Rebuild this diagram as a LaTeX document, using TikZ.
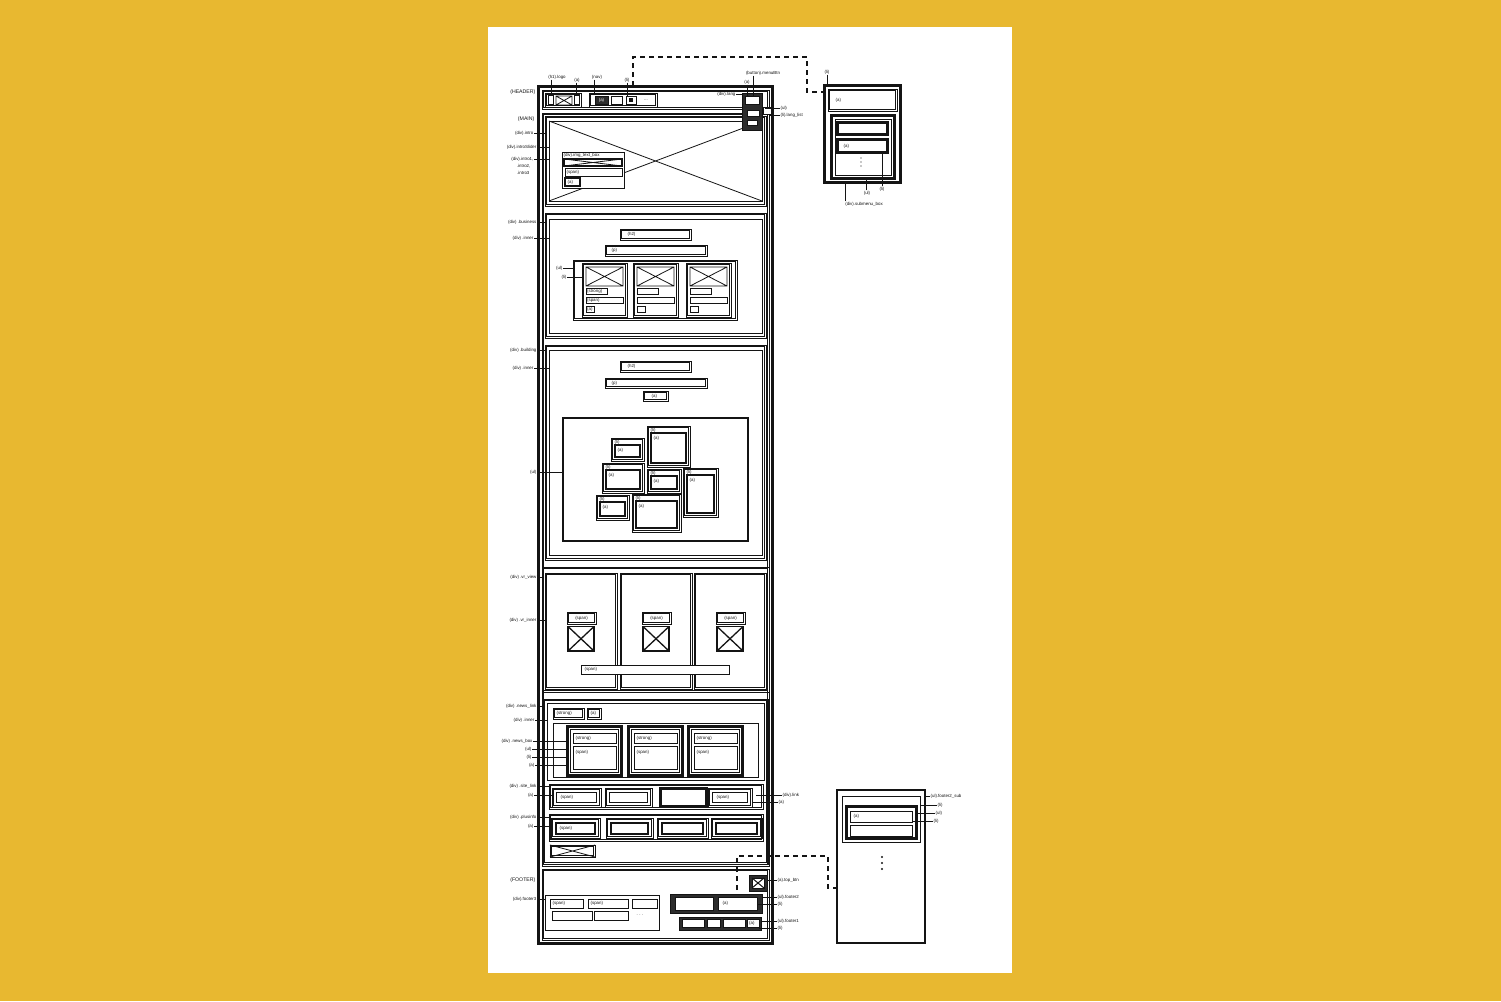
\documentclass[tikz,border=0pt]{standalone}
\usepackage{fontspec}
\setmainfont{Liberation Sans}
\usetikzlibrary{arrows.meta,positioning,calc}
\definecolor{bgyellow}{HTML}{E8B830}
\definecolor{ink}{HTML}{141414}

\tikzset{
  box/.style={draw=ink, line width=0.8pt},
  frame/.style={draw=ink, line width=1.1pt},
  darkbox/.style={draw=ink, fill=ink!90, line width=0.8pt},
  lbl/.style={font=\fontsize{4.4}{5}\selectfont, inner sep=0.4pt, text=ink},
  biglbl/.style={font=\fontsize{5.2}{6}\selectfont, inner sep=0.4pt, text=ink},
  lead/.style={draw=ink, line width=0.8pt},
  link/.style={draw=ink, line width=1.8pt, dash pattern=on 5pt off 4pt},
}
% double frame drawn as two rectangles
\newcommand{\dfr}[5][]{\draw[box,#1] ({#2},{#3}) rectangle ({#4},{#5})
  ({#2+1.8},{#3+1.8}) rectangle ({#4-1.8},{#5-1.8});}
% image placeholder
\newcommand{\xbox}[4]{\draw[box] ({#1},{#2}) rectangle ({#3},{#4})
  ({#1},{#2}) -- ({#3},{#4}) ({#1},{#4}) -- ({#3},{#2});}
% labels with leader lines
\newcommand{\llab}[4]{\node[lbl, anchor=east] (#1) at (#2) {#3};
  \coordinate (#1t) at (#4); \draw[lead] (#1.east) -- (#1t);}
\newcommand{\rlab}[4]{\node[lbl, anchor=west] (#1) at (#2) {#3};
  \coordinate (#1t) at (#4); \draw[lead] (#1t) -- (#1.west);}
\newcommand{\tlab}[4]{\node[lbl] (#1) at (#2) {#3};
  \coordinate (#1t) at (#4); \draw[lead] (#1t |- #1.south) -- (#1t);}
\newcommand{\blab}[4]{\node[lbl] (#1) at (#2) {#3};
  \coordinate (#1t) at (#4); \draw[lead] (#1t |- #1.north) -- (#1t);}
\newcommand{\txt}[3]{\node[lbl, anchor=west] (#1) at (#2) {#3};}
% building list item
\newcommand{\bli}[5]{\dfr{#2}{#3}{#4}{#5}
  \draw[box, line width=1.1pt] ({#2+4},{#3+7}) rectangle ({#4-4},{#5-4});
  \node[lbl, anchor=west] (#1li) at ({#2+3},{#3+4.2}) {(li)};
  \node[lbl, anchor=west] (#1a) at ({#2+6},{#3+12}) {(a)};}

\begin{document}
\begin{tikzpicture}[x=1pt, y=-1pt]
\useasboundingbox (0,0) rectangle (1501,1001);
\fill[bgyellow] (0,0) rectangle (1501,1001);
\fill[white] (488,27) rectangle (1012,973);

% page column
\dfr[line width=1.3pt]{538}{86}{773}{944}

% header
\dfr{542}{90}{769}{109}
\dfr{545}{93}{581}{107}
\draw[box] (548,95) rectangle (553,104);
\draw[box] (574,95) rectangle (579,104);
\xbox{556}{96}{572}{105}
\dfr{589}{93}{657}{107}
\draw[darkbox] (595,96) rectangle (608,104);
\node[lbl, text=white] (nava) at (601.5,100) {(a)};
\draw[box] (611,96) rectangle (622,104);
\draw[box] (626,96) rectangle (636,104);
\fill[ink] (629,98) rectangle (633,102);
\node[lbl] (navdots) at (646,100) {...};

% main
\dfr[line width=1pt]{542}{113}{769}{866}
\dfr{545}{116}{766}{206}
\draw[box] (549,121) rectangle (762,201);
\draw[box] (549,121) -- (762,201) (549,201) -- (762,121);
\draw[box, fill=white] (562,152) rectangle (624,188);
\node[lbl, anchor=north west] (itb) at (563,152.5) {(div).img\_text\_box};
\draw[box, line width=1.2pt, fill=white] (564,159) rectangle (622,166);
\draw[box] (564,159) -- (622,166) (564,166) -- (622,159);
\draw[box] (565,168) rectangle (622,176);
\txt{itbspan}{566,172}{(span)}
\draw[box, line width=1.2pt] (565,178) rectangle (580,186);
\txt{itba}{567,182}{(a)}

% language box
\draw[darkbox] (742,93) rectangle (762,130);
\draw[box, fill=white] (745,96) rectangle (759,104);
\draw[box, fill=white] (747,110) rectangle (759,116);
\draw[box, fill=white] (747,120) rectangle (757,125);
\draw[box, fill=white] (763,107) rectangle (771,114);

% business
\dfr{545}{213}{766}{338}
\draw[box] (549,219) rectangle (762,333);
\dfr{620}{229}{691}{240}
\txt{bush}{627,234.5}{(h2)}
\dfr{605}{245}{707}{256}
\txt{busp}{611,250.5}{(p)}
\dfr[line width=1pt]{573}{260}{737}{320}
\foreach \x/\n in {582/1,633/2,686/3} {
  \dfr{\x}{263}{\x+45}{317}
  \xbox{\x+4}{267}{\x+41}{286}
  \draw[box, line width=1pt] ({\x+4},288) rectangle ({\x+25},294);
  \draw[box, line width=1pt] ({\x+4},297) rectangle ({\x+41},303);
  \draw[box, line width=1pt] ({\x+4},306) rectangle ({\x+12},312);
}
\txt{busstrong}{586.5,291}{(strong)}
\txt{busspan}{586.5,300}{(span)}
\txt{busa}{586.5,309}{(a)}

% building
\dfr{545}{345}{766}{560}
\draw[box] (549,350) rectangle (762,555);
\dfr{620}{361}{691}{372}
\txt{bldh}{627,366.5}{(h2)}
\dfr{605}{378}{707}{388}
\txt{bldp}{611,383}{(p)}
\dfr{643}{391}{668}{401}
\txt{blda}{651,396.5}{(a)}
\draw[frame] (563,418) rectangle (748,541);
\bli{ba}{611}{438}{644}{461}
\bli{bb}{647}{426}{690}{467}
\bli{bc}{602}{463}{644}{493}
\bli{bd}{647}{469}{681}{493}
\bli{be}{683}{468}{718}{517}
\bli{bf}{596}{495}{629}{520}
\bli{bg}{632}{494}{681}{532}

% vr view
\dfr{542}{567}{769}{692}
\foreach \x/\n in {545/1,620/2,694/3} {
  \dfr{\x}{573}{\x+72}{689}
  \dfr{\x+22}{612}{\x+51}{624.5}
  \node[lbl] (vrspan\n) at ({\x+36.5},618.3) {(span)};
  \draw[box, line width=1.3pt] ({\x+23},626.5) rectangle ({\x+49},651);
  \draw[box, line width=1.3pt] ({\x+23},626.5) -- ({\x+49},651) ({\x+23},651) -- ({\x+49},626.5);
}
\draw[box, fill=white] (581,665) rectangle (729,674);
\txt{vrspan}{584,669.5}{(span)}

% news
\dfr{543}{699}{768}{864}
\draw[box] (547,703) rectangle (764,780);
\dfr{553}{708}{584}{719}
\txt{newsstrong}{556,713.5}{(strong)}
\dfr{587}{708}{601}{719}
\txt{newsa}{590,713.5}{(a)}
\draw[box] (553,723) rectangle (758,777);
\foreach \x/\n in {567/1,628/2,688/3} {
  \dfr[line width=1.1pt]{\x}{726}{\x+55}{776}
  \draw[box] ({\x+3.8},729.8) rectangle ({\x+51.2},772.2);
  \draw[box] ({\x+6},733) rectangle ({\x+49},743);
  \draw[box] ({\x+6},746) rectangle ({\x+49},769);
  \txt{nstrong\n}{\x+8,738}{(strong)}
  \txt{nspan\n}{\x+8,752}{(span)}
}
% site link
\dfr{549}{784}{763}{809}
\foreach \a/\b in {552/601,605/652,708/752} {
  \dfr{\a}{788}{\b}{807}
  \draw[box, line width=1.1pt] ({\a+4.5},792.5) rectangle ({\b-4.5},802.5);
}
\dfr[line width=1.2pt]{660}{788}{707}{807}
\txt{slspan}{560,797.5}{(span)}
\txt{slspanb}{716,797.5}{(span)}
% plus info
\dfr{549}{814}{763}{841}
\foreach \a/\b in {551/600,606/653,657/708,711/762} {
  \dfr{\a}{818}{\b}{838}
  \draw[box, line width=1.1pt] ({\a+5},823) rectangle ({\b-5},834);
}
\txt{pispan}{559,828.5}{(span)}
\dfr{550}{845}{595}{857}
\draw[box] (550,845) -- (595,857) (550,857) -- (595,845);

% footer
\dfr{542}{869}{769}{940}
\draw[box] (545,895) rectangle (659,930);
\draw[box] (550,899) rectangle (583,908);
\txt{f3span}{552,903.5}{(span)}
\draw[box] (588,899) rectangle (628,908);
\txt{f3spanb}{590,903.5}{(span)}
\draw[box] (632,899) rectangle (657,908);
\draw[box] (552,911) rectangle (592,920);
\draw[box] (594,911) rectangle (628,920);
\node[lbl] (f3dots) at (640,915) {. . .};
\draw[darkbox] (749,875) rectangle (767,891);
\draw[box, fill=white] (752,878) rectangle (764,888);
\draw[box, line width=1pt] (752,878) -- (764,888) (752,888) -- (764,878);
\draw[darkbox] (670,894) rectangle (762,913);
\draw[box, fill=white] (675,897) rectangle (713,910);
\draw[box, fill=white] (718,897) rectangle (757,910);
\txt{f2a}{722,903.5}{(a)}
\draw[darkbox] (679,917) rectangle (761,930);
\foreach \a/\b in {682/704,707/720,723/745,747/759}
  \draw[box, fill=white] (\a,919.5) rectangle (\b,927.5);
\txt{f1a}{748.5,923.5}{(a)}

% submenu box
\dfr[line width=1.1pt]{824}{85}{901}{183}
\dfr{828}{89}{897}{111}
\txt{suba}{835,100}{(a)}
\dfr[line width=1.1pt]{831}{115}{895}{179}
\draw[box] (835,119) rectangle (891,175);
\dfr[line width=1.1pt]{837}{122}{888}{135}
\dfr[line width=1.1pt]{837}{139}{888}{153}
\txt{subaa}{843,146}{(a)}
\foreach \y in {158,162,166} \fill[ink] (861,\y) circle (0.6pt);

% footer2 sub box
\draw[frame] (837,790) rectangle (925,943);
\draw[box] (842,796) rectangle (920,842);
\dfr[line width=1.1pt]{846}{806}{917}{839}
\draw[box, line width=1pt] (850,811) rectangle (912,822);
\txt{fsa}{853,816.5}{(a)}
\draw[box, line width=1pt] (850,825) rectangle (912,836);
\foreach \y in {857,863,869} \fill[ink] (882,\y) circle (1.2pt);

% labels, left side
\node[biglbl, anchor=east] (hdr) at (536,92) {(HEADER)};
\node[biglbl, anchor=east] (mainl) at (535,119) {(MAIN)};
\llab{intro}{534,133}{(div).intro}{545,133}
\llab{introsl}{537,147}{(div).introSlider}{549,147}
\llab{introa}{534,159}{(div).intro1,}{549,159}
\node[lbl, anchor=east] (introb) at (531,166) {.intro2,};
\node[lbl, anchor=east] (introc) at (530,173) {.intro3};
\llab{bus}{537,222}{(div) .business}{545,222}
\llab{businn}{534,238}{(div) .inner}{549,238}
\llab{busul}{563,268}{(ul)}{573,268}
\llab{busli}{567,277}{(li)}{582,277}
\llab{bld}{537,350}{(div) .building}{545,350}
\llab{bldinn}{534,368}{(div) .inner}{549,368}
\llab{bldul}{537,472}{(ul)}{563,472}
\llab{vrview}{537,577}{(div) .vr\_view}{542,577}
\llab{vrinn}{537,620}{(div) .vr\_inner}{545,620}
\llab{nlink}{537,706}{(div) .news\_link}{543,706}
\llab{ninn}{535,720}{(div) .inner}{547,720}
\llab{nbox}{533,741}{(div) .news\_box}{567,741}
\llab{nul}{532,749}{(ul)}{567,749}
\llab{nli}{532,757}{(li)}{567,757}
\llab{na}{535,765}{(a)}{567,765}
\llab{slink}{537,786}{(div) .site\_link}{549,786}
\llab{slinka}{534,795}{(a)}{552,795}
\llab{pinfo}{537,817}{(div) .plusinfo}{549,817}
\llab{pinfoa}{534,826}{(a)}{551,826}
\node[biglbl, anchor=east] (ftr) at (536,880) {(FOOTER)};
\llab{fthree}{537,899}{(div).footer3}{545,899}

% labels, top
\tlab{logo}{557,77}{(h1).logo}{551,93}
\tlab{logoa}{577,80}{(a)}{576,95}
\tlab{navl}{597,77}{(nav)}{594,93}
\tlab{navli}{627,80}{(li)}{627,96}
\tlab{menubtn}{763,73}{(button).menuBtn}{753,96}
\tlab{langa}{747,82}{(a)}{747,96}
\llab{lang}{736,94}{(div).lang}{742,94}
\rlab{langul}{780,108}{(ul)}{765,108}
\rlab{langli}{780,115}{(li).lang\_list}{769,115}
\tlab{subli}{827,72}{(li)}{827,85}

% labels, right side
\rlab{dlink}{782,795}{(div).link}{756,795}
\rlab{dlinka}{778,802}{(a)}{752,802}
\rlab{topbtn}{777,880}{(a).top\_btn}{767,880}
\rlab{ftwo}{777,897}{(ul).footer2}{762,897}
\rlab{ftwoli}{777,904}{(li)}{757,904}
\rlab{fone}{777,921}{(ul).footer1}{761,921}
\rlab{foneli}{777,928}{(li)}{759,928}
\rlab{fsub}{930,796}{(ul).footer2\_sub}{925,796}
\rlab{fsubli}{937,805}{(li)}{920,805}
\rlab{fsubul}{935,813}{(ul)}{917,813}
\rlab{fsublib}{933,821}{(li)}{912,821}

% labels, bottom
\blab{subul}{867,193}{(ul)}{866,179}
\blab{subli2}{882,189}{(li)}{882,153}
\blab{subbox}{864,204}{(div).submenu\_box}{845,183}

% dashed connectors
\coordinate (navlink) at (633,86);
\coordinate (subin) at (824,92);
\draw[link] (navlink) |- (807,57) |- (subin);
\coordinate (ftlink) at (737,890);
\coordinate (fsubin) at (837,888);
\draw[link] (ftlink) |- (828,856) |- (fsubin);
\end{tikzpicture}
\end{document}
